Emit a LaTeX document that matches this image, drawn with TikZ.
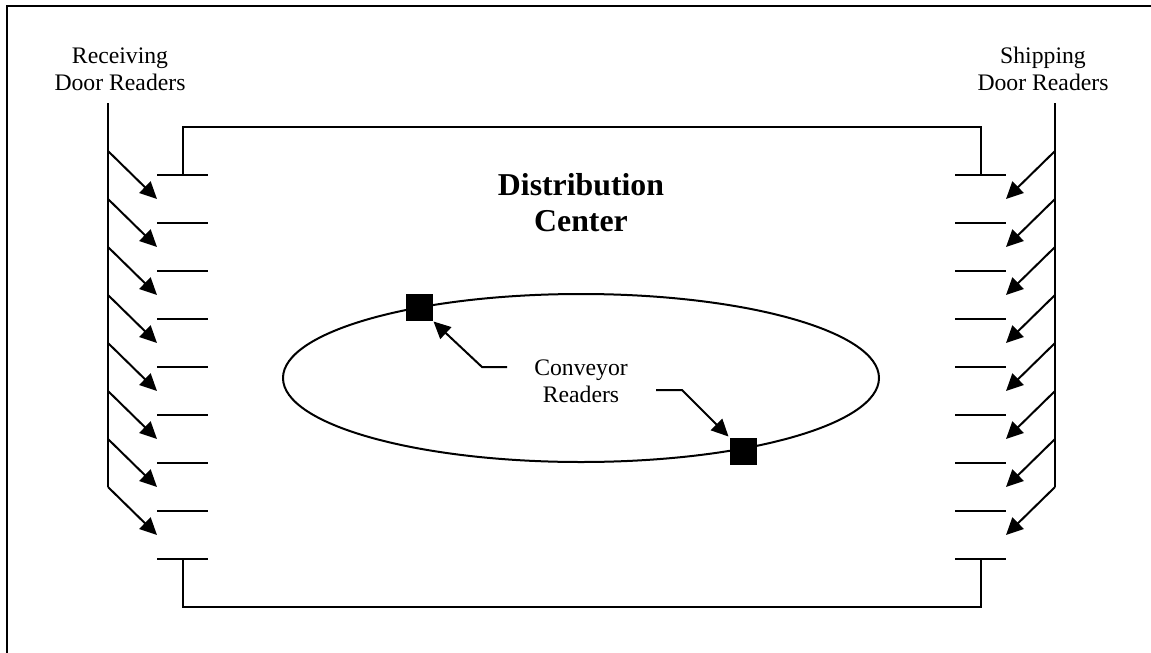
\documentclass[tikz,border=0pt]{standalone}
\usepackage{fontspec}
\setmainfont{Liberation Serif}
\usetikzlibrary{arrows.meta,shapes.geometric}
\begin{document}
\begin{tikzpicture}[x=1pt,y=-1pt,
  line width=2pt,
  ln/.style={line width=2pt},
  arr/.style={line width=2pt,-{Triangle[length=17pt,width=16pt]}},
  lbl/.style={inner sep=0pt,align=center,font=\fontsize{23.7}{27}\selectfont},
  title/.style={inner sep=0pt,align=center,font=\fontsize{31.8}{36}\selectfont\bfseries},
  rdr/.style={draw=none,fill=black,minimum size=27pt,inner sep=0pt}]
\useasboundingbox (0,0) rectangle (1151,653);
% outer frame (top and left)
\coordinate (fA) at (7,653);
\coordinate (fB) at (7,6);
\coordinate (fC) at (1151,6);
\draw[line width=2.5pt] (fA) -- (fB) -- (fC);
% labels
\node[lbl] (recv) at (120,69) {Receiving\\Door Readers};
\node[lbl] (ship) at (1043,69) {Shipping\\Door Readers};
\node[title] (dc) at (581,203) {Distribution\\Center};
\node[lbl] (conv) at (581,381) {Conveyor\\Readers};
% inner building outline
\coordinate (bl1) at (183,175);
\coordinate (bl2) at (183,127);
\coordinate (br2) at (981,127);
\coordinate (br1) at (981,175);
\coordinate (bl3) at (183,559);
\coordinate (bl4) at (183,607);
\coordinate (br4) at (981,607);
\coordinate (br3) at (981,559);
\draw[ln] (bl1) -- (bl2) -- (br2) -- (br1);
\draw[ln] (bl3) -- (bl4) -- (br4) -- (br3);
% door bars
\foreach \i in {0,...,8}{
  \coordinate (lbA\i) at (157,175+48*\i);
  \coordinate (lbB\i) at (208,175+48*\i);
  \coordinate (rbA\i) at (955,175+48*\i);
  \coordinate (rbB\i) at (1006,175+48*\i);
  \draw[ln] (lbA\i) -- (lbB\i);
  \draw[ln] (rbA\i) -- (rbB\i);
}
% reader lines
\coordinate (lrT) at (108,103);
\coordinate (lrB) at (108,487);
\coordinate (rrT) at (1055,103);
\coordinate (rrB) at (1055,487);
\draw[ln] (lrT) -- (lrB);
\draw[ln] (rrT) -- (rrB);
\foreach \i in {0,...,7}{
  \coordinate (ls\i) at (108,151+48*\i);
  \coordinate (le\i) at (157,199+48*\i);
  \coordinate (rs\i) at (1055,151+48*\i);
  \coordinate (re\i) at (1006,199+48*\i);
  \draw[arr] (ls\i) -- (le\i);
  \draw[arr] (rs\i) -- (re\i);
}
% conveyor loop
\node[draw,ellipse,line width=2pt,minimum width=596pt,minimum height=168pt,inner sep=0pt] (loop) at (581,378) {};
\node[rdr] (cr1) at (419,307) {};
\node[rdr] (cr2) at (743,451) {};
\coordinate (c1a) at (507,367);
\coordinate (c1b) at (482,367);
\coordinate (c2a) at (656,390);
\coordinate (c2b) at (682,390);
\draw[arr] (c1a) -- (c1b) -- (cr1.south east);
\draw[arr] (c2a) -- (c2b) -- (cr2.north west);
\end{tikzpicture}
\end{document}
